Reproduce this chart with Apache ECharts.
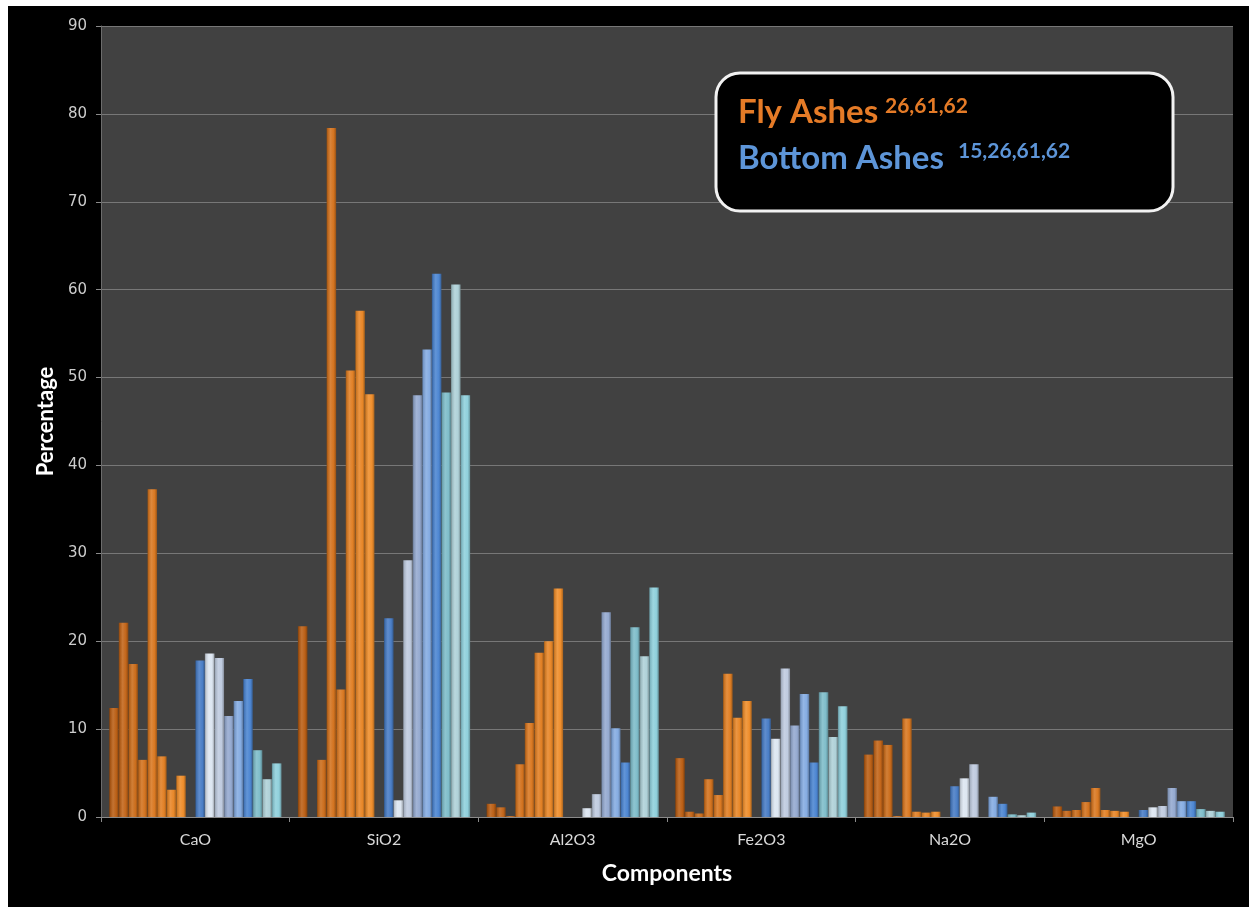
<!DOCTYPE html>
<html>
<head>
<meta charset="utf-8">
<title>Ash composition</title>
<script src="https://cdn.jsdelivr.net/npm/echarts@6/dist/echarts.min.js"></script>
<style>
  html, body { margin: 0; padding: 0; background: #ffffff; }
  #chart { position: absolute; left: 8px; top: 6px; width: 1241px; height: 901px; background: #000000; }
</style>
</head>
<body>
<div id="chart"></div>
<script>
// Oxide components on the category axis
const components = ['CaO', 'SiO2', 'Al2O3', 'Fe2O3', 'Na2O', 'MgO'];

// Fly ash samples (percent), 8 per component; null = not reported
const flyCaO   = [12.4, 22.1, 17.4, 6.5, 37.3, 6.9, 3.1, 4.7];
const flySiO2  = [21.7, null, 6.5, 78.4, 14.5, 50.8, 57.6, 48.1];
const flyAl2O3 = [1.5, 1.1, 0.1, 6.0, 10.7, 18.7, 20.0, 26.0];
const flyFe2O3 = [6.7, 0.6, 0.4, 4.3, 2.5, 16.3, 11.3, 13.2];
const flyNa2O  = [7.1, 8.7, 8.2, 0.1, 11.2, 0.6, 0.5, 0.6];
const flyMgO   = [1.2, 0.7, 0.8, 1.7, 3.3, 0.8, 0.7, 0.6];

// Bottom ash samples (percent), 9 per component; null = not reported
const bottomCaO   = [17.8, 18.6, 18.1, 11.5, 13.2, 15.7, 7.6, 4.3, 6.1];
const bottomSiO2  = [22.6, 1.9, 29.2, 48.0, 53.2, 61.8, 48.3, 60.6, 48.0];
const bottomAl2O3 = [null, 1.0, 2.6, 23.3, 10.1, 6.2, 21.6, 18.3, 26.1];
const bottomFe2O3 = [11.2, 8.9, 16.9, 10.4, 14.0, 6.2, 14.2, 9.1, 12.6];
const bottomNa2O  = [3.5, 4.4, 6.0, null, 2.3, 1.5, 0.3, 0.2, 0.5];
const bottomMgO   = [0.8, 1.1, 1.25, 3.3, 1.8, 1.8, 0.9, 0.7, 0.6];

// Value axis ticks
const yTicks = [0, 10, 20, 30, 40, 50, 60, 70, 80, 90];

// Legend box text
const flyLabel = 'Fly Ashes';
const flyRefs = '26,61,62';
const bottomLabel = 'Bottom Ashes';
const bottomRefs = '15,26,61,62';

const flyColors = ['#bb6016', '#c3661a', '#cb6d1c', '#d3731f', '#da7922', '#e18025', '#e88728', '#ef8e2c'];
const bottomColors = ['#4a7ec6', '#dde6f1', '#bfcbdf', '#95aad0', '#85ace2', '#4d86d2', '#7fbdca', '#afd1d8', '#90d0dc'];

function shade(hex, f) {
  const n = parseInt(hex.slice(1), 16);
  let r = (n >> 16) & 255, g = (n >> 8) & 255, b = n & 255;
  const m = c => Math.max(0, Math.min(255, Math.round(f < 0 ? c * (1 + f) : c + (255 - c) * f)));
  return 'rgb(' + m(r) + ',' + m(g) + ',' + m(b) + ')';
}

// Horizontal shading that gives each bar a rounded, cylinder-like look
function cylinder(hex) {
  return new echarts.graphic.LinearGradient(0, 0, 1, 0, [
    { offset: 0, color: shade(hex, -0.35) },
    { offset: 0.12, color: shade(hex, -0.12) },
    { offset: 0.4, color: shade(hex, 0.12) },
    { offset: 0.75, color: hex },
    { offset: 1, color: shade(hex, -0.3) }
  ]);
}

const flyRows = [flyCaO, flySiO2, flyAl2O3, flyFe2O3, flyNa2O, flyMgO];
const bottomRows = [bottomCaO, bottomSiO2, bottomAl2O3, bottomFe2O3, bottomNa2O, bottomMgO];

const series = [];
flyColors.forEach((c, i) => {
  series.push({
    type: 'bar', name: 'Fly ' + (i + 1),
    data: flyRows.map(r => r[i]),
    itemStyle: { color: cylinder(c) }
  });
});
// empty slot separating the two groups inside each component
series.push({ type: 'bar', name: 'gap', data: components.map(() => null), silent: true });
bottomColors.forEach((c, i) => {
  series.push({
    type: 'bar', name: 'Bottom ' + (i + 1),
    data: bottomRows.map(r => r[i]),
    itemStyle: { color: cylinder(c) }
  });
});
series.forEach(s => { s.barGap = '0%'; s.barCategoryGap = '8.7%'; });

const chart = echarts.init(document.getElementById('chart'), null, { renderer: 'canvas' });
chart.setOption({
  animation: false,
  backgroundColor: '#000000',
  grid: {
    left: 93, right: 16, top: 20, bottom: 90,
    show: true, backgroundColor: '#414141', borderWidth: 0
  },
  xAxis: {
    type: 'category',
    data: components,
    name: 'Components',
    nameLocation: 'middle',
    nameGap: 45,
    nameTextStyle: { color: '#ffffff', fontFamily: 'Lato', fontWeight: 'bold', fontSize: 23 },
    axisLine: { lineStyle: { color: '#8a8a8a', width: 1 } },
    axisTick: { show: true, length: 5, lineStyle: { color: '#8a8a8a' } },
    axisLabel: { color: '#d9d9d9', fontFamily: 'Lato', fontSize: 16, margin: 15 }
  },
  yAxis: {
    type: 'value',
    min: yTicks[0],
    max: yTicks[yTicks.length - 1],
    interval: yTicks[1] - yTicks[0],
    name: 'Percentage',
    nameLocation: 'middle',
    nameRotate: 90,
    nameGap: 43,
    nameTextStyle: { color: '#ffffff', fontFamily: 'Lato', fontWeight: 'bold', fontSize: 22 },
    axisLine: { show: true, lineStyle: { color: '#6c6c6c', width: 1 } },
    axisTick: { show: true, length: 5, lineStyle: { color: '#8a8a8a' } },
    axisLabel: { color: '#cccccc', fontFamily: 'DejaVu Sans', fontSize: 15, margin: 14 },
    splitLine: { show: true, lineStyle: { color: '#777777', width: 1 } }
  },
  series: series,
  graphic: [
    {
      type: 'rect',
      shape: { x: 708, y: 67, width: 457, height: 138, r: 24 },
      style: { fill: '#000000', stroke: '#f2f2f2', lineWidth: 3 },
      z: 100
    },
    {
      type: 'text', left: 730, top: 90, z: 101,
      style: { text: flyLabel, fill: '#e57b27', font: 'bold 33px Lato' }
    },
    {
      type: 'text', left: 877, top: 90, z: 101,
      style: { text: flyRefs, fill: '#e57b27', font: 'bold 21px Lato' }
    },
    {
      type: 'text', left: 730, top: 136, z: 101,
      style: { text: bottomLabel, fill: '#5d95d8', font: 'bold 33px Lato' }
    },
    {
      type: 'text', left: 950, top: 135, z: 101,
      style: { text: bottomRefs, fill: '#5d95d8', font: 'bold 21px Lato' }
    }
  ]
});
</script>
</body>
</html>
